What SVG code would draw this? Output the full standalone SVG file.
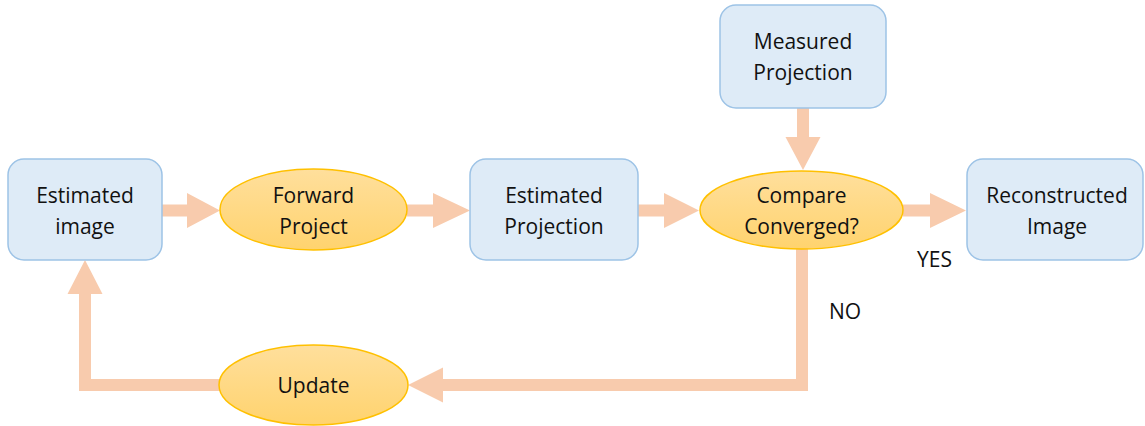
<svg xmlns="http://www.w3.org/2000/svg" width="1145" height="426" viewBox="0 0 1145 426">
<defs>
<linearGradient id="gold" x1="0" y1="0" x2="0" y2="1">
<stop offset="0" stop-color="#FFDF9C"/>
<stop offset="1" stop-color="#FFD36E"/>
</linearGradient>
</defs>
<style>
.box{fill:#DEEBF7;stroke:#9DC3E6;stroke-width:1.5}
.ell{fill:url(#gold);stroke:#FFC000;stroke-width:1.5}
.arr{fill:#F8CBAD;stroke:none}
text{font-family:"Open Sans","Liberation Sans",sans-serif;font-size:21px;fill:#111;text-anchor:middle}
</style>
<rect width="1145" height="426" fill="#fff"/>
<g id="connectors">
<polygon class="arr" points="162,204.5 187,204.5 187,193 220,210.5 187,228 187,216.5 162,216.5"/>
<polygon class="arr" points="407,204.5 433,204.5 433,193 470,210.5 433,228 433,216.5 407,216.5"/>
<polygon class="arr" points="638,204.5 664,204.5 664,193 699,210.5 664,228 664,216.5 638,216.5"/>
<polygon class="arr" points="903,204.5 930,204.5 930,193 966,210.5 930,228 930,216.5 903,216.5"/>
<polygon class="arr" points="797,108 809,108 809,137 820.5,137 803,170 785.5,137 797,137"/>
<polygon class="arr" points="796,246 808,246 808,391 443,391 443,402.5 408,385 443,367.5 443,379 796,379"/>
<polygon class="arr" points="221,379 221,391 79,391 79,294 67.5,294 85,260 102.5,294 91,294 91,379"/>
</g>
<g id="estimated-image">
<rect class="box" x="8" y="159" width="154" height="101" rx="16"/>
<text x="85" y="203">Estimated</text>
<text x="85" y="234">image</text>
</g>
<g id="forward-project">
<ellipse class="ell" cx="313.5" cy="209.5" rx="93.5" ry="40.5"/>
<text x="313.5" y="203">Forward</text>
<text x="313.5" y="234">Project</text>
</g>
<g id="estimated-projection">
<rect class="box" x="470" y="159" width="168" height="101" rx="16"/>
<text x="554" y="203">Estimated</text>
<text x="554" y="234">Projection</text>
</g>
<g id="compare">
<ellipse class="ell" cx="801.5" cy="210" rx="101.5" ry="39"/>
<text x="801.5" y="203">Compare</text>
<text x="801.5" y="234">Converged?</text>
</g>
<g id="measured-projection">
<rect class="box" x="720" y="5" width="166" height="103" rx="16"/>
<text x="803" y="49">Measured</text>
<text x="803" y="80">Projection</text>
</g>
<g id="reconstructed-image">
<rect class="box" x="967" y="159" width="176" height="101" rx="16"/>
<text x="1057" y="203">Reconstructed</text>
<text x="1057" y="234">Image</text>
</g>
<g id="update">
<ellipse class="ell" cx="313.5" cy="385" rx="94.5" ry="40"/>
<text x="313.5" y="393">Update</text>
</g>
<g id="labels">
<text x="934.5" y="267">YES</text>
<text x="845" y="319">NO</text>
</g>
</svg>
